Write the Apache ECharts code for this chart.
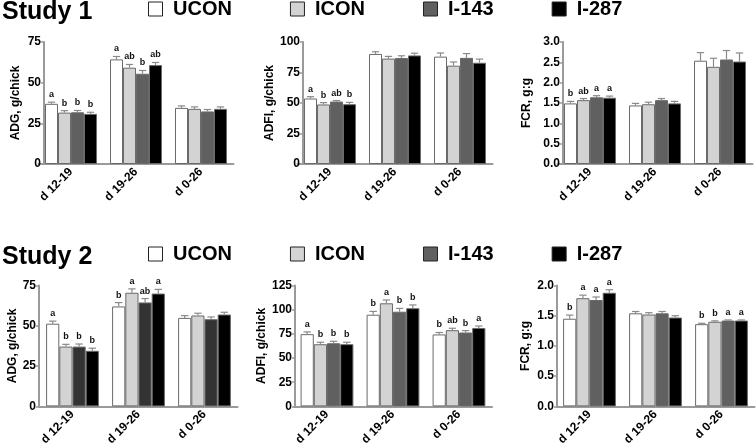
<!DOCTYPE html>
<html><head><meta charset="utf-8">
<script src="https://cdn.jsdelivr.net/npm/echarts@6/dist/echarts.min.js"></script>
<style>html,body{margin:0;padding:0;background:#fff}#c{width:756px;height:448px}</style>
</head><body><div id="c"></div><script>
// ---------- DATA ----------
const categories = ['d 12-19', 'd 19-26', 'd 0-26'];
const treatments = ['UCON', 'ICON', 'I-143', 'I-287'];
const studyTitles = ['Study 1', 'Study 2'];
const yTitles = ['ADG, g/chick', 'ADFI, g/chick', 'FCR, g:g'];

// values indexed [category][treatment]
const s1ADG    = [[37.0, 31.6, 31.8, 30.8], [64.3, 59.2, 55.5, 60.8], [34.5, 33.9, 32.3, 33.9]];
const s1ADGse  = [[1.0, 1.2, 1.1, 1.0], [1.8, 2.0, 2.0, 1.6], [1.2, 1.2, 1.2, 1.2]];
const s1ADGlet = [['a', 'b', 'b', 'b'], ['a', 'ab', 'b', 'ab'], ['', '', '', '']];

const s1ADFI    = [[53.7, 48.8, 51.2, 49.0], [90.2, 86.4, 86.9, 89.0], [88.0, 80.6, 87.0, 83.0]];
const s1ADFIse  = [[1.5, 1.5, 0.8, 1.5], [1.8, 1.8, 1.8, 1.8], [3.0, 3.0, 3.5, 3.0]];
const s1ADFIlet = [['a', 'b', 'ab', 'b'], ['', '', '', ''], ['', '', '', '']];

const s1FCR    = [[1.49, 1.57, 1.64, 1.63], [1.44, 1.47, 1.57, 1.49], [2.54, 2.39, 2.57, 2.52]];
const s1FCRse  = [[0.05, 0.04, 0.04, 0.04], [0.05, 0.05, 0.04, 0.05], [0.20, 0.21, 0.22, 0.21]];
const s1FCRlet = [['b', 'ab', 'a', 'a'], ['', '', '', ''], ['', '', '', '']];

const s2ADG    = [[51.3, 37.1, 37.1, 34.5], [62.0, 70.5, 64.5, 70.0], [54.9, 56.4, 54.1, 57.0]];
const s2ADGse  = [[1.6, 1.4, 1.6, 1.6], [2.4, 2.4, 2.4, 2.6], [1.4, 1.4, 1.4, 1.4]];
const s2ADGlet = [['a', 'b', 'b', 'b'], ['b', 'a', 'ab', 'a'], ['', '', '', '']];

const s2ADFI    = [[74.7, 64.3, 65.3, 64.3], [94.8, 106.6, 97.9, 101.5], [74.4, 78.8, 76.4, 81.1]];
const s2ADFIse  = [[2.3, 2.0, 2.0, 2.0], [3.4, 3.4, 3.4, 3.4], [2.0, 2.0, 2.0, 2.0]];
const s2ADFIlet = [['a', 'b', 'b', 'b'], ['b', 'a', 'b', 'b'], ['b', 'ab', 'b', 'a']];

const s2FCR    = [[1.45, 1.79, 1.76, 1.88], [1.54, 1.52, 1.54, 1.47], [1.36, 1.40, 1.42, 1.42]];
const s2FCRse  = [[0.06, 0.05, 0.05, 0.05], [0.03, 0.03, 0.03, 0.03], [0.015, 0.015, 0.01, 0.01]];
const s2FCRlet = [['b', 'a', 'a', 'a'], ['', '', '', ''], ['b', 'b', 'a', 'a']];

// axis ranges
const yMax = [[75, 100, 3.0], [75, 125, 2.0]];
const yInterval = [[25, 25, 0.5], [25, 25, 0.5]];

// ---------- LAYOUT / STYLE ----------
const FONT = '"Liberation Sans", Arial, Helvetica, sans-serif';
const panels = [
  {mean: s1ADG,  se: s1ADGse,  let: s1ADGlet,  row: 0, col: 0, left: 38.5, width: 195, yOff: -5.5, nameGap: 22, dark: '#606060', dec: 0},
  {mean: s1ADFI, se: s1ADFIse, let: s1ADFIlet, row: 0, col: 1, left: 297.5, width: 195, yOff: -5.5, nameGap: 27, dark: '#606060', dec: 0},
  {mean: s1FCR,  se: s1FCRse,  let: s1FCRlet,  row: 0, col: 2, left: 557.5, width: 195, yOff: -5.5, nameGap: 30, dark: '#606060', dec: 1},
  {mean: s2ADG,  se: s2ADGse,  let: s2ADGlet,  row: 1, col: 0, left: 39.5, width: 198, yOff: 0.5, nameGap: 20, dark: '#333333', dec: 0},
  {mean: s2ADFI, se: s2ADFIse, let: s2ADFIlet, row: 1, col: 1, left: 294, width: 198, yOff: -1, nameGap: 20, dark: '#606060', dec: 0},
  {mean: s2FCR,  se: s2FCRse,  let: s2FCRlet,  row: 1, col: 2, left: 556.5, width: 198, yOff: -0.5, nameGap: 25, dark: '#606060', dec: 1}
];
const rowTop = [42, 285.5];
const rowHeight = [122, 123.5];
const AXIS_COLOR = '#9a9a9a';

const grids = [], xAxes = [], yAxes = [], series = [];
panels.forEach((p, i) => {
  grids.push({left: p.left, width: p.width, top: rowTop[p.row], height: rowHeight[p.row], containLabel: false});
  xAxes.push({
    type: 'category', gridIndex: i, data: categories,
    axisLine: {show: true, lineStyle: {color: AXIS_COLOR, width: 2}},
    axisTick: {show: false},
    axisLabel: {rotate: 45, interval: 0, margin: 6, color: '#000', fontWeight: 'bold', fontSize: 12, fontFamily: FONT}
  });
  yAxes.push({
    type: 'value', gridIndex: i, min: 0, max: yMax[p.row][p.col], interval: yInterval[p.row][p.col],
    offset: p.yOff,
    name: yTitles[p.col], nameLocation: 'middle', nameGap: p.nameGap,
    nameTextStyle: {color: '#000', fontWeight: 'bold', fontSize: 12, fontFamily: FONT},
    axisLine: {show: true, lineStyle: {color: AXIS_COLOR, width: 2}},
    axisTick: {show: true, length: 3, lineStyle: {color: AXIS_COLOR, width: 1.5}},
    splitLine: {show: false},
    axisLabel: {margin: 3, color: '#000', fontWeight: 'bold', fontSize: 12, fontFamily: FONT,
      formatter: v => v.toFixed(p.dec)}
  });
  const colors = ['#ffffff', '#d3d3d3', p.dark, '#000000'];
  treatments.forEach((t, k) => {
    series.push({
      type: 'bar', name: t, xAxisIndex: i, yAxisIndex: i,
      data: categories.map((c, ci) => p.mean[ci][k]),
      barGap: 0, barCategoryGap: '20%',
      itemStyle: {color: colors[k], borderColor: '#6a6a6a', borderWidth: 1},
      emphasis: {disabled: true}, silent: true
    });
  });
  const ebData = [];
  categories.forEach((c, ci) => treatments.forEach((t, k) => ebData.push([ci, k, p.mean[ci][k], p.se[ci][k]])));
  series.push({
    type: 'custom', xAxisIndex: i, yAxisIndex: i, silent: true, z: 5,
    data: ebData,
    renderItem: (params, api) => {
      const ci = api.value(0), k = api.value(1), m = api.value(2), e = api.value(3);
      const base = api.coord([ci, m]);
      const top = api.coord([ci, m + e]);
      const catW = api.size([1, 0])[0];
      const bw = catW * 0.8 / 4;
      const x = base[0] + (k - 1.5) * bw;
      const cap = bw * 0.28;
      const letter = p.let[ci][k];
      const children = [
        {type: 'line', shape: {x1: x, y1: base[1], x2: x, y2: top[1]}, style: {stroke: '#8a8a8a', lineWidth: 1.2}},
        {type: 'line', shape: {x1: x - cap, y1: top[1], x2: x + cap, y2: top[1]}, style: {stroke: '#8a8a8a', lineWidth: 1.2}}
      ];
      if (letter) {
        children.push({type: 'text', x: x, y: top[1] - 3,
          style: {text: letter, fill: '#111', font: 'bold 9px ' + FONT, align: 'center', verticalAlign: 'bottom'}});
      }
      return {type: 'group', children};
    }
  });
});

const legendBase = {
  data: treatments, selectedMode: false, padding: 0, icon: 'rect',
  itemWidth: 14, itemHeight: 14, itemGap: 58, left: 148,
  formatter: n => ' ' + n,
  itemStyle: {borderColor: '#222', borderWidth: 1},
  textStyle: {color: '#000', fontWeight: 'bold', fontSize: 20, fontFamily: FONT}
};

const option = {
  animation: false,
  backgroundColor: '#fff',
  title: studyTitles.map((s, r) => ({
    text: s, left: 2, top: r === 0 ? 0 : 245, padding: 0,
    textStyle: {color: '#000', fontWeight: 'bold', fontSize: 25, fontFamily: FONT}
  })),
  legend: [Object.assign({}, legendBase, {top: -1}), Object.assign({}, legendBase, {top: 244})],
  grid: grids, xAxis: xAxes, yAxis: yAxes, series
};
const chart = echarts.init(document.getElementById('c'), null, {renderer: 'canvas'});
chart.setOption(option);
</script></body></html>
